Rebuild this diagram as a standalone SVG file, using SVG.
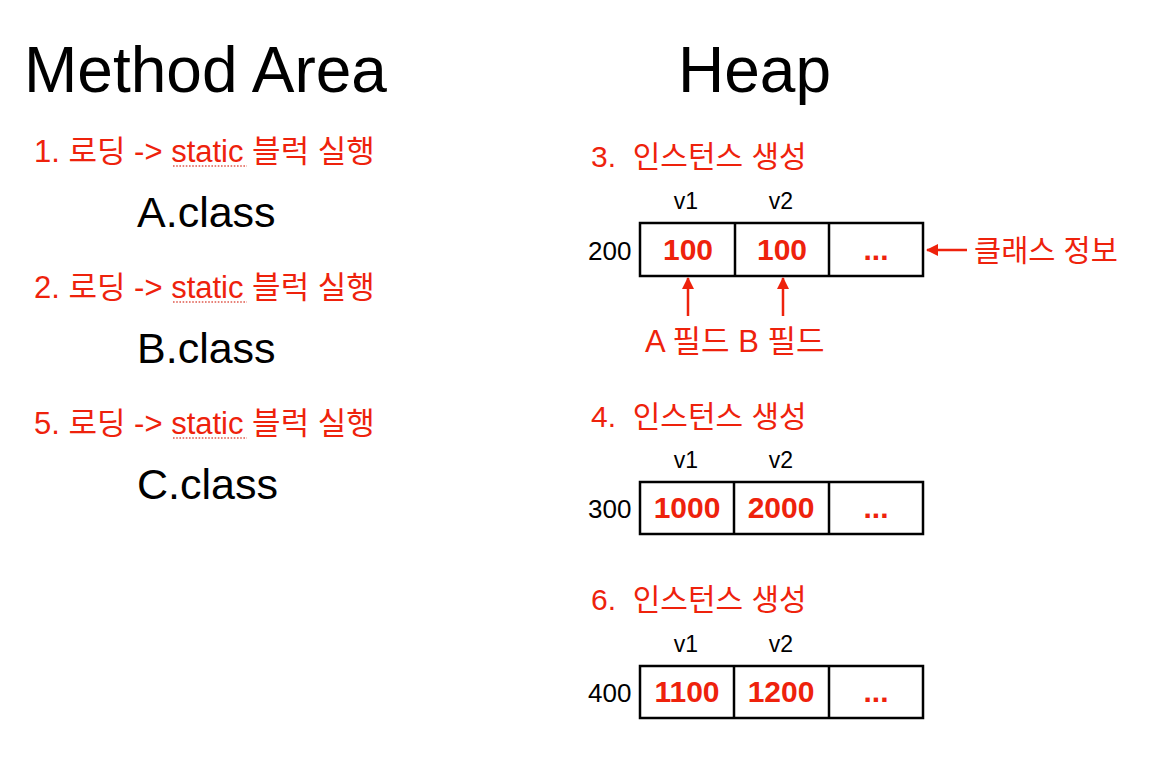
<svg xmlns="http://www.w3.org/2000/svg" width="1150" height="769" viewBox="0 0 1150 769">
<style>
.title{font-family:"Liberation Sans","Noto Sans CJK KR",sans-serif;font-size:64px;fill:#000}
.red{font-family:"Liberation Sans","Noto Sans CJK KR",sans-serif;font-size:31px;fill:#ee220c}
.hd{font-family:"Liberation Sans","Noto Sans CJK KR",sans-serif;font-size:30px;fill:#ee220c}
.cls{font-family:"Liberation Sans","Noto Sans CJK KR",sans-serif;font-size:43px;fill:#000}
.lbl{font-family:"Liberation Sans","Noto Sans CJK KR",sans-serif;font-size:23px;fill:#000;text-anchor:middle}
.addr{font-family:"Liberation Sans","Noto Sans CJK KR",sans-serif;font-size:26px;fill:#000}
.val{font-family:"Liberation Sans","Noto Sans CJK KR",sans-serif;font-size:30px;font-weight:bold;fill:#ee220c;text-anchor:middle}
.box{fill:#fff;stroke:#000;stroke-width:2.5}
.div{stroke:#000;stroke-width:2.5}
.squig{stroke:#e05a4e;stroke-width:1.6;stroke-dasharray:1.6 1.6;fill:none}
.conn{stroke:#ee220c;stroke-width:2.5;fill:none}
</style>
<defs>
<marker id="ah" viewBox="0 0 12 12" refX="11" refY="6" markerWidth="12" markerHeight="12" markerUnits="userSpaceOnUse" orient="auto">
<path d="M0,0 L12,6 L0,12 Z" fill="#ee220c"/>
</marker>
</defs>
<rect width="1150" height="769" fill="#fff"/>

<g id="title-method-area"><text class="title" x="24" y="92">Method Area</text></g>
<g id="title-heap"><text class="title" x="678" y="92">Heap</text></g>

<g id="step1">
<text class="red" x="34" y="162">1. 로딩 -&gt; static 블럭 실행</text>
<line class="squig" x1="173" y1="166" x2="247" y2="166"/>
</g>
<g id="a-class"><text class="cls" x="137" y="227">A.class</text></g>
<g id="step2">
<text class="red" x="34" y="298">2. 로딩 -&gt; static 블럭 실행</text>
<line class="squig" x1="173" y1="302" x2="247" y2="302"/>
</g>
<g id="b-class"><text class="cls" x="137" y="363">B.class</text></g>
<g id="step5">
<text class="red" x="34" y="434">5. 로딩 -&gt; static 블럭 실행</text>
<line class="squig" x1="173" y1="438" x2="247" y2="438"/>
</g>
<g id="c-class"><text class="cls" x="137" y="499">C.class</text></g>

<g id="instance-200">
<text class="hd" x="591" y="167" xml:space="preserve">3.  인스턴스 생성</text>
<text class="lbl" x="686" y="209">v1</text>
<text class="lbl" x="781" y="209">v2</text>
<text class="addr" x="588" y="260">200</text>
<rect class="box" x="640" y="223" width="283" height="53"/>
<line class="div" x1="735" y1="223" x2="735" y2="276"/>
<line class="div" x1="829" y1="223" x2="829" y2="276"/>
<text class="val" x="688" y="260">100</text>
<text class="val" x="782" y="260">100</text>
<text class="val" x="876" y="260">...</text>
</g>
<g id="label-class-info"><text class="hd" x="974" y="261" style="font-size:29.5px">클래스 정보</text></g>
<g id="label-fields"><text class="red" x="645" y="352">A 필드 B 필드</text></g>

<g id="instance-300">
<text class="hd" x="591" y="427" xml:space="preserve">4.  인스턴스 생성</text>
<text class="lbl" x="686" y="468">v1</text>
<text class="lbl" x="781" y="468">v2</text>
<text class="addr" x="588" y="518">300</text>
<rect class="box" x="640" y="482" width="283" height="52"/>
<line class="div" x1="734" y1="482" x2="734" y2="534"/>
<line class="div" x1="829" y1="482" x2="829" y2="534"/>
<text class="val" x="687" y="518">1000</text>
<text class="val" x="781" y="518">2000</text>
<text class="val" x="876" y="518">...</text>
</g>

<g id="instance-400">
<text class="hd" x="591" y="610" xml:space="preserve">6.  인스턴스 생성</text>
<text class="lbl" x="686" y="652">v1</text>
<text class="lbl" x="781" y="652">v2</text>
<text class="addr" x="588" y="702">400</text>
<rect class="box" x="640" y="666" width="283" height="52"/>
<line class="div" x1="734" y1="666" x2="734" y2="718"/>
<line class="div" x1="829" y1="666" x2="829" y2="718"/>
<text class="val" x="687" y="702">1100</text>
<text class="val" x="781" y="702">1200</text>
<text class="val" x="876" y="702">...</text>
</g>

<g id="connectors">
<line class="conn" x1="967" y1="250" x2="927" y2="250" marker-end="url(#ah)"/>
<line class="conn" x1="688" y1="316" x2="688" y2="278" marker-end="url(#ah)"/>
<line class="conn" x1="783" y1="316" x2="783" y2="278" marker-end="url(#ah)"/>
</g>
</svg>
